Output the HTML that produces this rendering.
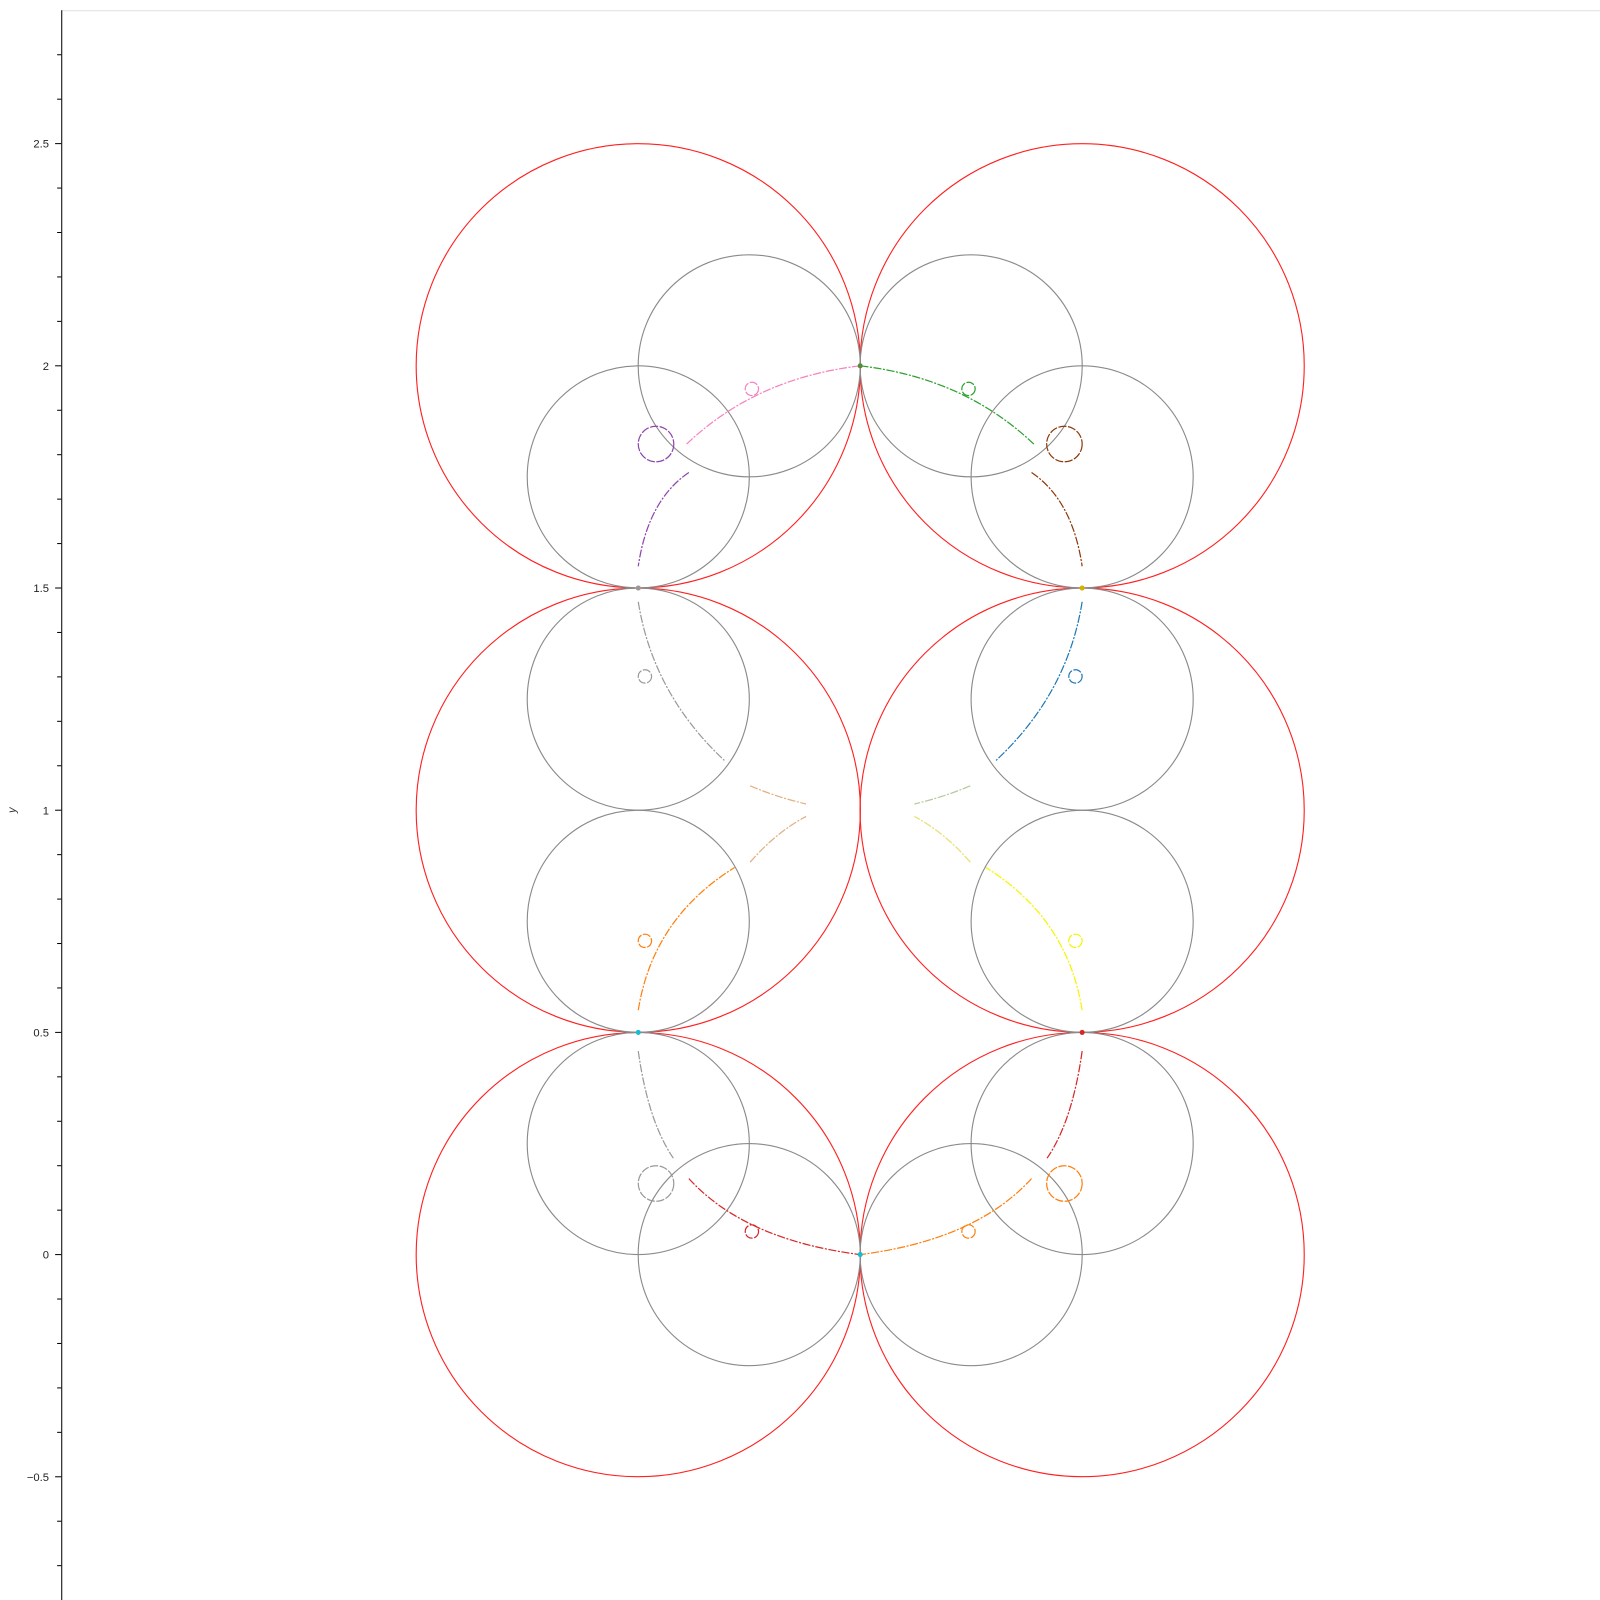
<!DOCTYPE html>
<html><head><meta charset="utf-8"><style>
html,body{margin:0;padding:0;background:#fff;}
svg{display:block;font-family:"Liberation Sans",sans-serif;}
</style></head><body>
<svg id="chart" width="1600" height="1600" viewBox="0 0 1600 1600">
<g transform="scale(1.020408)">
<line x1="60" y1="10.5" x2="1568" y2="10.5" stroke="#e0e0e0"/>
<line x1="60.5" y1="10" x2="60.5" y2="1568" stroke="#000"/>
<g id="ticks"></g>
<text x="15" y="794" transform="rotate(-90 15 794)" font-size="11" font-style="italic" text-anchor="middle" fill="#333">y</text>
<g id="marks"></g>
</g>
</svg>
<script>
const majorTicks=[-0.5,0,0.5,1,1.5,2,2.5];
const tickLabels=["\u22120.5","0","0.5","1","1.5","2","2.5"];
const redCircles=[[-0.5,2],[0.5,2],[-0.5,1],[0.5,1],[-0.5,0],[0.5,0]];
const redRadius=0.5;
const grayCircles=[[-0.25,2],[-0.5,1.75],[0.25,2],[0.5,1.75],[-0.5,1.25],[-0.5,0.75],[0.5,1.25],[0.5,0.75],[-0.5,0.25],[-0.25,0],[0.25,0],[0.5,0.25]];
const grayRadius=0.25;
const curveStarts=[[0,2],[-0.386,1.76],[-0.5,1.469],[-0.248,1.055],[-0.248,0.883],[-0.5,0.55],[-0.5,0.458],[-0.386,0.171],
 [0,2],[0.386,1.76],[0.5,1.469],[0.248,1.055],[0.248,0.883],[0.5,0.55],[0.5,0.458],[0.386,0.171]];
const curveCtrls=[[-0.237,1.972],[-0.478,1.698],[-0.467,1.262],[-0.19,1.03],[-0.19,0.95],[-0.467,0.757],[-0.478,0.3],[-0.26,0.033],
 [0.237,1.972],[0.478,1.698],[0.467,1.262],[0.19,1.03],[0.19,0.95],[0.467,0.757],[0.478,0.3],[0.26,0.033]];
const curveEnds=[[-0.393,1.822],[-0.5,1.549],[-0.306,1.112],[-0.122,1.014],[-0.122,0.986],[-0.283,0.871],[-0.421,0.217],[0,0],
 [0.393,1.822],[0.5,1.549],[0.306,1.112],[0.122,1.014],[0.122,0.986],[0.283,0.871],[0.421,0.217],[0,0]];
const curveColors=["#f781bf","#8e44ad","#999999","#e0b080","#e0b080","#ff7f0e","#999999","#d62728",
 "#2ca02c","#8c3a0b","#1f77b4","#b5c99a","#e8e070","#f5f500","#d62728","#ff7f0e"];
const bumpCenters=[[-0.244,1.948],[-0.46,1.824],[-0.485,1.301],[-0.485,0.706],[-0.46,0.16],[-0.244,0.052],
 [0.244,1.948],[0.46,1.824],[0.485,1.301],[0.485,0.706],[0.46,0.16],[0.244,0.052]];
const bumpRadii=[0.015,0.04,0.015,0.015,0.04,0.015,0.015,0.04,0.015,0.015,0.04,0.015];
const bumpColors=["#f781bf","#8e44ad","#999999","#ff7f0e","#999999","#d62728","#2ca02c","#8c3a0b","#1f77b4","#f5f500","#ff7f0e","#ff7f0e"];
const dotPoints=[[0,2],[-0.5,1.5],[0.5,1.5],[-0.5,0.5],[0.5,0.5],[0,0]];
const dotColors=["#5a8a3a","#999999","#d4b000","#17becf","#d62728","#17becf"];

const X=x=>843+435*x;
const Y=y=>1229.5-435.5*y;
const S=r=>435.3*r;
const NS="http://www.w3.org/2000/svg";
const ticks=document.getElementById('ticks');
const marks=document.getElementById('marks');
function mk(tag,attrs,parent){const e=document.createElementNS(NS,tag);for(const k in attrs)e.setAttribute(k,attrs[k]);parent.appendChild(e);return e;}

for(let v=-7;v<=27;v++){
  const y=Y(v/10);
  if(y<10||y>1568)continue;
  const major=(v%5===0);
  const t=mk('line',{x1:major?54:56,x2:60,y1:y,y2:y,stroke:'#000'},ticks);
  
  
}
majorTicks.forEach((v,i)=>{
  const t=mk('text',{x:48,y:Y(v)+4,'font-size':11,'text-anchor':'end',fill:'#222'},ticks);
  t.textContent=tickLabels[i];
  
  
});
redCircles.forEach(c=>{
  const e=mk('circle',{cx:X(c[0]),cy:Y(c[1]),r:S(redRadius),fill:'none',stroke:'#ff2020','stroke-width':1.1},marks);
  
  
});
grayCircles.forEach(c=>{
  const e=mk('circle',{cx:X(c[0]),cy:Y(c[1]),r:S(grayRadius),fill:'none',stroke:'#8a8a8a','stroke-width':1.1},marks);
  
  
});
curveStarts.forEach((s,i)=>{
  const c=curveCtrls[i],e2=curveEnds[i];
  const d=`M${X(s[0])},${Y(s[1])} Q${X(c[0])},${Y(c[1])} ${X(e2[0])},${Y(e2[1])}`;
  const e=mk('path',{d:d,fill:'none',stroke:curveColors[i],'stroke-width':1.2,'stroke-dasharray':'8 1.5 2 1.5'},marks);
  
  
});
bumpCenters.forEach((b,i)=>{
  const e=mk('circle',{cx:X(b[0]),cy:Y(b[1]),r:S(bumpRadii[i]),fill:'none',stroke:bumpColors[i],'stroke-width':1.2,'stroke-dasharray':'8 1.5'},marks);
  
  
});
dotPoints.forEach((p,i)=>{
  const e=mk('circle',{cx:X(p[0]),cy:Y(p[1]),r:2.5,fill:dotColors[i]},marks);
  
  
});
</script>
</body></html>
